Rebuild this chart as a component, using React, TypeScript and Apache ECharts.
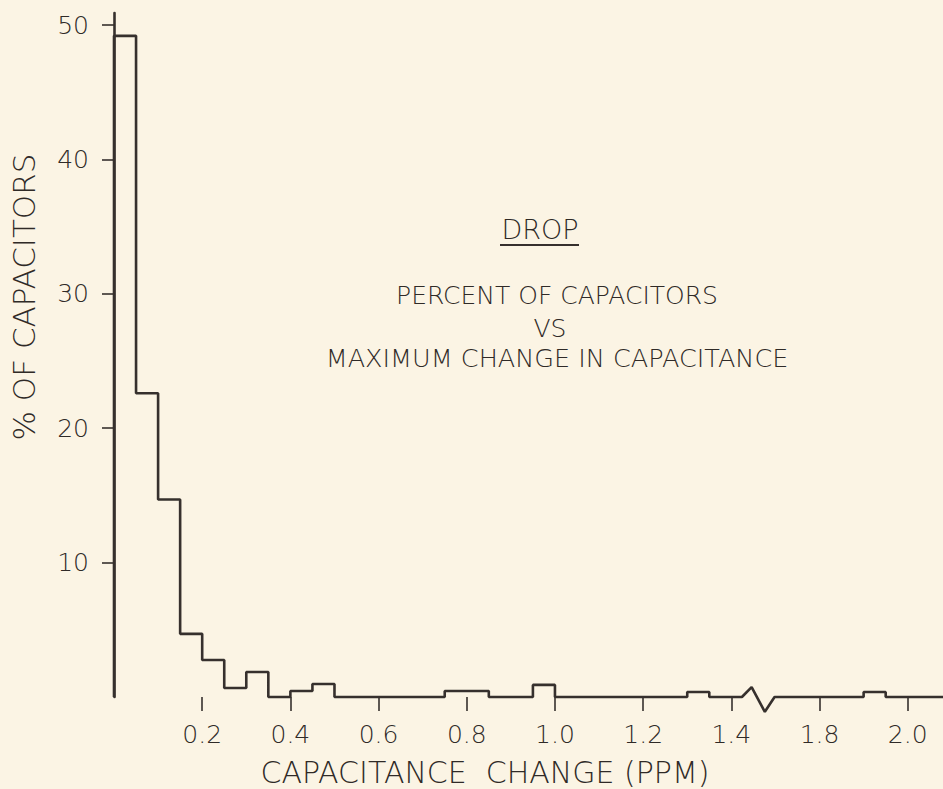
import React, { useEffect, useRef } from "react";
import * as echarts from "echarts";

// Histogram bins (label units, PPM), bin width 0.05
const binWidth = 0.05;
const binStarts = [0, 0.05, 0.1, 0.15, 0.2, 0.25, 0.3, 0.4, 0.45, 0.75, 0.8, 0.95, 1.3, 1.9];
const percentValues = [49.2, 22.6, 14.7, 4.7, 2.75, 0.67, 1.86, 0.45, 0.97, 0.45, 0.45, 0.9, 0.37, 0.37];

// Broken axis: values beyond the break are shifted left by this amount
const axisBreakAt = 1.5;
const axisBreakShift = 0.2;

// x tick positions (axis units) and their printed labels
const xTickPositions = [0.2, 0.4, 0.6, 0.8, 1.0, 1.2, 1.4, 1.6, 1.8];
const xTickLabels = ["0.2", "0.4", "0.6", "0.8", "1.0", "1.2", "1.4", "1.8", "2.0"];
const yTickValues = [10, 20, 30, 40, 50];

// zig-zag break marker on the baseline (axis units, %)
const breakZigzag: [number, number][] = [
  [1.424, 0],
  [1.446, 0.74],
  [1.476, -1.1],
  [1.498, 0],
];

const xMax = 1.88;
const yMax = 50.9;

const INK = "#36302d";
const TEXT = "#2f2a27";
const BG = "#fbf4e4";
const FONT = "'DejaVu Sans', sans-serif";
const W = 300;

function pos(x: number) {
  return x > axisBreakAt ? x - axisBreakShift : x;
}

function buildOutline(): [number, number][] {
  const pts: [number, number][] = [[0, 0]];
  let prevEnd = 0;
  let zigDone = false;
  const eps = 1e-6;
  for (let i = 0; i < binStarts.length; i++) {
    const s = binStarts[i];
    const e = s + binWidth;
    const v = percentValues[i];
    if (!zigDone && pos(s) > breakZigzag[0][0]) {
      breakZigzag.forEach((p) => pts.push([p[0], p[1]]));
      zigDone = true;
    }
    if (Math.abs(prevEnd - s) > eps || i === 0) pts.push([pos(s), 0]);
    pts.push([pos(s), v]);
    pts.push([pos(e), v]);
    const next = binStarts[i + 1];
    if (next === undefined || Math.abs(next - e) > eps) pts.push([pos(e), 0]);
    prevEnd = e;
  }
  if (!zigDone) breakZigzag.forEach((p) => pts.push([p[0], p[1]]));
  pts.push([xMax, 0]);
  return pts;
}

function txt(text: string, x: number, y: number, size: number, rotation = 0) {
  return {
    type: "text",
    x,
    y,
    rotation,
    style: {
      text,
      fill: TEXT,
      font: `${W} ${size}px ${FONT}`,
      textAlign: "center",
      textVerticalAlign: "middle",
    },
  };
}

export default function App() {
  const ref = useRef<HTMLDivElement>(null);
  useEffect(() => {
    if (!ref.current) return;
    const chart = echarts.init(ref.current, null, { renderer: "svg" });
    const outline = buildOutline();
    chart.setOption({
      animation: false,
      backgroundColor: BG,
      grid: { left: 114, right: 0, top: 13, bottom: 92, containLabel: false },
      xAxis: {
        type: "value",
        min: 0,
        max: xMax,
        axisLine: { show: false },
        splitLine: { show: false },
        axisTick: {
          show: true,
          customValues: xTickPositions,
          length: 14,
          lineStyle: { color: INK, width: 1.6 },
        },
        axisLabel: {
          customValues: xTickPositions,
          margin: 25,
          color: TEXT,
          fontFamily: FONT,
          fontWeight: W,
          fontSize: 25,
          formatter: (v: number) => {
            const i = xTickPositions.findIndex((p) => Math.abs(p - v) < 1e-6);
            return i >= 0 ? xTickLabels[i] : "";
          },
        },
      },
      yAxis: {
        type: "value",
        min: 0,
        max: yMax,
        axisLine: { show: true, lineStyle: { color: INK, width: 2.6 } },
        splitLine: { show: false },
        axisTick: {
          show: true,
          customValues: yTickValues,
          length: 12,
          lineStyle: { color: INK, width: 1.6 },
        },
        axisLabel: {
          customValues: yTickValues,
          margin: 25,
          color: TEXT,
          fontFamily: FONT,
          fontWeight: W,
          fontSize: 25,
        },
      },
      series: [
        {
          type: "line",
          data: outline,
          showSymbol: false,
          clip: false,
          lineStyle: { color: INK, width: 2.6 },
          z: 3,
        },
      ],
      graphic: [
        txt("DROP", 540, 229, 27),
        {
          type: "line",
          shape: { x1: 500, y1: 245, x2: 579, y2: 245 },
          style: { stroke: INK, lineWidth: 2 },
        },
        txt("PERCENT OF CAPACITORS", 557, 295, 25),
        txt("VS", 550, 328, 25),
        txt("MAXIMUM CHANGE IN CAPACITANCE", 557, 358, 25.5),
        txt("CAPACITANCE  CHANGE (PPM)", 485, 772, 30),
        txt("% OF CAPACITORS", 24, 297, 31, Math.PI / 2),
      ],
    });
    return () => chart.dispose();
  }, []);
  return (
    <div
      ref={ref}
      style={{ position: "fixed", left: 0, top: 0, width: 943, height: 789, background: BG }}
    />
  );
}
